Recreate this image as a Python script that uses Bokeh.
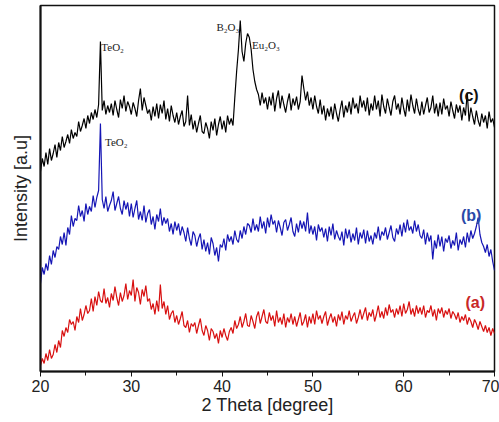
from bokeh.plotting import figure
from bokeh.models import Range1d, FixedTicker
from bokeh.core.properties import value
from bokeh.embed import file_html
from bokeh.resources import INLINE

# 2-theta grid: 20.0 .. 70.0, step 0.2 (5 readings per degree)
two_theta = [round(20 + 0.2 * i, 1) for i in range(251)]

# (a) red trace, intensity (a.u.), one row per degree
int_a = [
    6, 13, 8, 18, 11,
    22, 13, 17, 27, 19,
    31, 24, 41, 35, 44,
    39, 52, 47, 50, 41,
    55, 49, 63, 51, 57,
    66, 58, 61, 73, 60,
    75, 66, 80, 71, 69,
    83, 68, 74, 64, 78,
    71, 85, 74, 66, 79,
    70, 76, 88, 72, 81,
    76, 92, 70, 84, 79,
    67, 82, 75, 86, 70,
    73, 62, 68, 57, 71,
    60, 87, 63, 70, 57,
    66, 52, 58, 61, 49,
    56, 47, 53, 60, 46,
    44, 51, 39, 48, 45,
    49, 38, 46, 53, 41,
    36, 46, 41, 31, 43,
    40, 33, 38, 28, 41,
    34, 43, 36, 31, 40,
    44, 38, 51, 43, 47,
    55, 44, 50, 58, 46,
    45, 56, 50, 43, 55,
    60, 48, 55, 62, 50,
    48, 59, 51, 56, 45,
    61, 49, 54, 47, 58,
    44, 54, 49, 58, 47,
    55, 45, 52, 59, 46,
    50, 57, 44, 55, 48,
    58, 47, 61, 52, 56,
    48, 55, 60, 46, 53,
    58, 49, 55, 45, 57,
    51, 60, 47, 56, 52,
    61, 50, 55, 59, 48,
    54, 62, 52, 58, 64,
    51, 59, 55, 62, 50,
    57, 66, 54, 60, 53,
    64, 56, 67, 59, 62,
    54, 63, 57, 66, 55,
    68, 58, 62, 70, 57,
    63, 55, 66, 58, 64,
    57, 66, 54, 61, 59,
    66, 55, 62, 51, 63,
    58, 64, 54, 61, 57,
    63, 53, 60, 57, 52,
    59, 49, 55, 51, 57,
    47, 54, 50, 44, 52,
    48, 42, 50, 45, 40,
    46, 39, 44, 36, 43,
    38,
]

# (b) blue trace
int_b = [
    88, 104, 97, 108, 101,
    116, 107, 121, 114, 125,
    122, 135, 127, 139, 126,
    144, 137, 156, 145, 153,
    151, 166, 155, 161, 150,
    168, 157, 165, 160, 176,
    164, 174, 181, 248, 172,
    163, 175, 160, 166, 171,
    180, 161, 168, 175, 163,
    157, 171, 162, 169, 155,
    168, 154, 163, 171, 152,
    160, 151, 166, 149, 158,
    162, 147, 155, 142, 157,
    150, 163, 146, 154, 148,
    153, 140, 148, 137, 150,
    141, 148, 136, 145, 139,
    130, 144, 133, 126, 140,
    136, 125, 133, 138, 122,
    132, 120, 129, 117, 134,
    128, 116, 124, 110, 127,
    124, 133, 121, 137, 130,
    135, 127, 141, 132, 129,
    141, 133, 145, 137, 148,
    146, 139, 153, 141, 147,
    140, 155, 143, 150, 138,
    154, 144, 157, 147, 151,
    139, 151, 144, 136, 149,
    152, 141, 147, 154, 140,
    135, 148, 139, 151, 143,
    150, 140, 159, 138, 146,
    137, 145, 131, 147, 140,
    144, 134, 143, 130, 145,
    136, 148, 132, 141, 135,
    131, 140, 126, 143, 133,
    142, 129, 138, 131, 144,
    127, 139, 133, 142, 128,
    141, 130, 136, 127, 139,
    133, 145, 131, 140, 136,
    144, 132, 139, 146, 134,
    130, 143, 137, 147, 135,
    149, 139, 152, 141, 145,
    138, 151, 140, 147, 136,
    133, 142, 127, 139, 130,
    136, 112, 131, 123, 137,
    125, 135, 120, 133, 129,
    136, 123, 131, 126, 139,
    121, 132, 127, 135, 124,
    139, 129, 141, 133, 138,
    145, 154, 137, 129, 125,
    119, 127, 115, 122, 110,
    101,
]

# (c) black trace
int_c = [
    200, 213, 205, 219, 207,
    223, 211, 218, 227, 214,
    229, 221, 235, 224, 230,
    237, 228, 242, 233, 239,
    235, 250, 240, 246, 253,
    243, 256, 248, 259, 252,
    262, 254, 267, 330, 261,
    271, 257, 266, 259, 268,
    256, 271, 262, 254, 272,
    263, 276, 260, 270, 265,
    257, 269, 263, 255, 271,
    283, 261, 274, 266, 258,
    262, 251, 265, 255, 268,
    253, 267, 258, 271, 252,
    263, 250, 266, 256, 249,
    259, 247, 255, 261, 245,
    250, 276, 246, 257, 242,
    251, 239, 248, 256, 240,
    238, 249, 243, 233, 250,
    241, 253, 236, 247, 255,
    242, 251, 239, 256, 247,
    253, 246, 274, 300, 322,
    351, 320, 310, 328, 338,
    334, 322, 302, 290, 282,
    277, 266, 279, 268, 274,
    262, 275, 266, 279, 260,
    273, 281, 263, 276, 267,
    259, 270, 278, 261, 273,
    266, 275, 262, 270, 296,
    283, 271, 280, 266, 274,
    262, 276, 265, 258, 272,
    257, 266, 251, 263, 255,
    265, 252, 268, 258, 250,
    262, 271, 254, 266, 259,
    270, 257, 274, 263, 268,
    258, 276, 264, 271, 260,
    274, 256, 268, 261, 276,
    262, 271, 255, 277, 265,
    258, 273, 264, 256, 270,
    276, 262, 268, 257, 274,
    263, 255, 272, 260, 277,
    266, 258, 273, 262, 256,
    270, 257, 266, 274, 259,
    264, 276, 258, 268, 255,
    269, 257, 273, 262, 266,
    255, 270, 261, 253, 267,
    259, 266, 251, 264, 256,
    279, 250, 264, 255, 247,
    261, 251, 245, 258, 249,
    256, 243, 260, 249, 253,
    244,
]

x_ticks = [20, 30, 40, 50, 60, 70]
x_minor_ticks = [25, 35, 45, 55, 65]

# peak annotations
peak_labels = ["TeO\u2082", "TeO\u2082", "B\u2082O\u2083", "Eu\u2082O\u2083"]
peak_x = [26.7, 27.1, 41.9, 43.3]
peak_y = [325, 230, 345, 327]
peak_align = ["left", "left", "right", "left"]

# sample labels
sample_labels = ["(c)", "(b)", "(a)"]
sample_x = [66.1, 66.3, 66.8]
sample_y = [276, 156, 69]
sample_colors = ["#111111", "#2a4aa8", "#c82828"]

p = figure(
    width=499, height=422,
    x_range=Range1d(20, 70), y_range=Range1d(0, 366),
    output_backend="svg", toolbar_location=None,
    min_border_left=40, min_border_right=5, min_border_top=5, min_border_bottom=51,
)
p.background_fill_color = "white"
p.border_fill_color = "white"
p.grid.grid_line_color = None
p.outline_line_color = "#111111"
p.outline_line_width = 1.5

p.line(two_theta, int_a, line_color="#d81010", line_width=1.2)
p.line(two_theta, int_b, line_color="#1515b5", line_width=1.2)
p.line(two_theta, int_c, line_color="#000000", line_width=1.2)

p.text(x=peak_x, y=peak_y, text=peak_labels, text_align=peak_align,
       text_baseline="alphabetic", text_font=value("Liberation Serif"),
       text_font_size="11px", text_color="#222222")
p.text(x=sample_x, y=sample_y, text=sample_labels, text_align="left",
       text_baseline="alphabetic", text_font=value("Liberation Sans"),
       text_font_size="16px", text_font_style="bold", text_color=sample_colors)

p.xaxis.ticker = FixedTicker(ticks=x_ticks, minor_ticks=x_minor_ticks)
p.xaxis.axis_label = "2 Theta [degree]"
p.xaxis.axis_label_text_font = "Liberation Sans"
p.xaxis.axis_label_text_font_style = "normal"
p.xaxis.axis_label_text_font_size = "18px"
p.xaxis.axis_label_text_color = "#222222"
p.xaxis.axis_label_standoff = 0
p.xaxis.major_label_text_font = "Liberation Sans"
p.xaxis.major_label_text_font_size = "16px"
p.xaxis.major_label_text_color = "#222222"
p.xaxis.major_label_standoff = 3
p.xaxis.major_tick_out = 5
p.xaxis.major_tick_in = 0
p.xaxis.minor_tick_out = 4
p.xaxis.minor_tick_in = 0
p.xaxis.axis_line_width = 2
p.xaxis.axis_line_color = "#111111"
p.xaxis.major_tick_line_color = "#111111"
p.xaxis.minor_tick_line_color = "#111111"

p.yaxis.ticker = FixedTicker(ticks=[])
p.yaxis.axis_label = "Intensity [a.u]"
p.yaxis.axis_label_text_font = "Liberation Sans"
p.yaxis.axis_label_text_font_style = "normal"
p.yaxis.axis_label_text_font_size = "18px"
p.yaxis.axis_label_text_color = "#222222"
p.yaxis.axis_label_standoff = 10
p.yaxis.axis_line_width = 2
p.yaxis.axis_line_color = "#111111"
p.yaxis.major_tick_line_color = None
p.yaxis.minor_tick_line_color = None

open("out.html", "w").write(file_html(p, INLINE))
